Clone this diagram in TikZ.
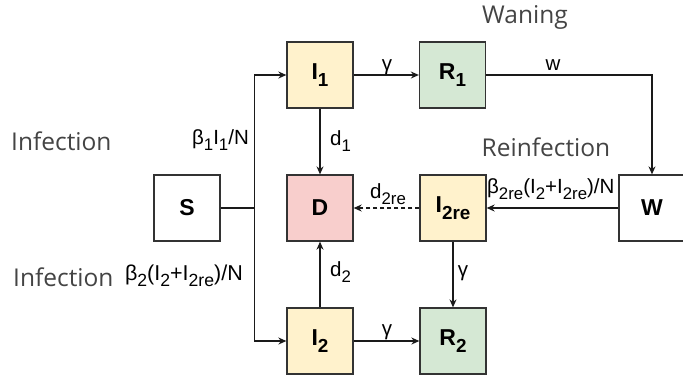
\documentclass[tikz,border=0pt]{standalone}
\usepackage{fontspec}
\setmainfont{Liberation Sans}
\newfontfamily\notefont{Open Sans}
\usetikzlibrary{arrows.meta}
\definecolor{edgec}{HTML}{1A1A1A}
\definecolor{boxline}{HTML}{333333}
\definecolor{yel}{HTML}{FFF2CC}
\definecolor{grn}{HTML}{D5E8D4}
\definecolor{rd}{HTML}{F8CECC}
\definecolor{notec}{HTML}{444444}
\newcommand{\sbs}[1]{\raisebox{-0.28em}{\scalebox{0.82}{#1}}}
\tikzset{
  comp/.style={draw=boxline, line width=1.3pt, minimum width=66pt, minimum height=66pt, inner sep=0pt, font=\fontsize{23}{26}\selectfont\bfseries},
  flow/.style={draw=edgec, line width=1.2pt, -{Stealth[length=8pt,width=7pt]}},
  seg/.style={draw=edgec, line width=1.2pt},
  lab/.style={inner sep=0pt, font=\fontsize{20.5}{22}\selectfont, text=black},
  note/.style={inner sep=0pt, font=\notefont\fontsize{24.5}{28}\selectfont, text=notec},
}
\begin{document}
\begin{tikzpicture}[x=1pt,y=-1pt]
\useasboundingbox (0,0) rectangle (683,376);
\node[comp, fill=white] (S) at (187,208) {S};
\node[comp, fill=yel] (I1) at (320,75) {I\sbs{1}};
\node[comp, fill=grn] (R1) at (452.5,75) {R\sbs{1}};
\node[comp, fill=rd] (D) at (320,208) {D};
\node[comp, fill=yel] (I2re) at (453,208) {I\sbs{2re}};
\node[comp, fill=white] (W) at (652,208) {W};
\node[comp, fill=yel] (I2) at (320,341) {I\sbs{2}};
\node[comp, fill=grn] (R2) at (453,341) {R\sbs{2}};
\coordinate (j) at (254.5,208);
\coordinate (ja) at (254.5,75);
\coordinate (jb) at (254.5,341);
\coordinate (wc) at (652,75);
\draw[seg] (S.east) -- (j);
\draw[flow] (j) -- (ja) -- (I1.west);
\draw[flow] (j) -- (jb) -- (I2.west);
\draw[flow] (I1) -- (R1);
\draw[flow] (I1) -- (D);
\draw[flow] (I2) -- (D);
\draw[flow] (I2) -- (R2);
\draw[flow] (R1.east) -- (wc) -- (W.north);
\draw[flow] (W.west) -- (I2re.east);
\draw[flow, dash pattern=on 4pt off 3pt] (I2re.west) -- (D.east);
\draw[flow] (I2re) -- (R2);
% edge labels
\node[lab, anchor=east] (l1) at (249,140) {β\sbs{1}I\sbs{1}/N};
\node[lab, anchor=east, font=\fontsize{21.5}{23}\selectfont] (l2) at (243,276) {β\sbs{2}(I\sbs{2}+I\sbs{2re})/N};
\node[lab] (g1) at (387,67) {γ};
\node[lab] (g2) at (387,332) {γ};
\node[lab] (g3) at (463,273) {γ};
\node[lab, anchor=west] (d1) at (330,141) {d\sbs{1}};
\node[lab, anchor=west] (d2) at (330,272) {d\sbs{2}};
\node[lab] (d2re) at (388,194) {d\sbs{2re}};
\node[lab] (wl) at (553,65) {w};
\node[lab, anchor=west] (b2re) at (487,189) {β\sbs{2re}(I\sbs{2}+I\sbs{2re})/N};
% notes
\node[note, anchor=west] (n1) at (11,141) {Infection};
\node[note, anchor=west] (n2) at (13,277) {Infection};
\node[note] (n3) at (525,17) {Waning};
\node[note] (n4) at (546,147) {Reinfection};
\end{tikzpicture}
\end{document}
